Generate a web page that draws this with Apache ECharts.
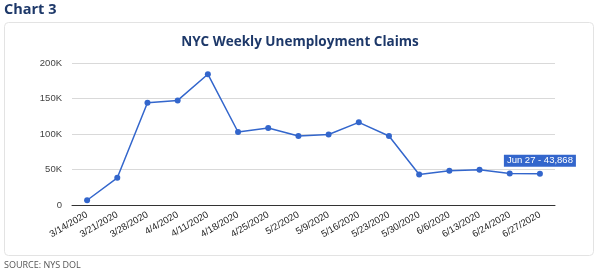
<!DOCTYPE html>
<html>
<head>
<meta charset="utf-8">
<script src="https://cdn.jsdelivr.net/npm/echarts@6/dist/echarts.min.js"></script>
<style>html,body{margin:0;padding:0;background:#fff;}#c{width:600px;height:274px;}</style>
</head>
<body>
<div id="c"></div>
<script>
const categories = ['3/14/2020','3/21/2020','3/28/2020','4/4/2020','4/11/2020','4/18/2020','4/25/2020','5/2/2020','5/9/2020','5/16/2020','5/23/2020','5/30/2020','6/6/2020','6/13/2020','6/24/2020','6/27/2020'];
const claims = [6700, 38300, 143900, 147300, 184200, 102800, 108400, 97200, 99200, 116400, 97200, 43000, 48100, 49500, 44500, 43868];
const yTicks = [0, 50000, 100000, 150000, 200000];
const lastLabel = 'Jun 27 - 43,868';

const chart = echarts.init(document.getElementById('c'), null, {renderer:'canvas'});
const seriesData = claims.map((v, i) => i === claims.length - 1 ? {
  value: v,
  label: {
    show: true, position: 'top', distance: 4,
    formatter: lastLabel,
    color: '#fff', backgroundColor: '#3366cc',
    padding: [1, 3], fontSize: 9.5, fontFamily: 'Liberation Sans, Arial'
  }
} : v);

chart.setOption({
  animation: false,
  graphic: [
    {type:'text', left: 4, top: 2, style:{text:'Chart 3', font:'bold 14.5px "Open Sans"', fill:'#1d3869'}},
    {type:'rect', shape:{x:4.5, y:22.5, width:589, height:233, r:4}, style:{fill:'none', stroke:'#e3e3e3', lineWidth:1}, z:-1},
    {type:'text', left: 4, top: 261, style:{text:'SOURCE: NYS DOL', font:'9px "Open Sans"', fill:'#555'}}
  ],
  title: {
    text: 'NYC Weekly Unemployment Claims',
    left: 'center', top: 30,
    textStyle: {fontFamily: 'Open Sans', fontWeight: 'bold', fontSize: 13.5, color: '#1d3869'}
  },
  grid: {left: 72, right: 45, top: 63, bottom: 69},
  xAxis: {
    type: 'category', data: categories, boundaryGap: true,
    axisLine: {lineStyle: {color: '#333'}},
    axisTick: {show: false},
    axisLabel: {rotate: 30, interval: 0, color: '#222', fontSize: 9.5, fontFamily: 'Liberation Sans, Arial', margin: 9}
  },
  yAxis: {
    type: 'value', min: 0, max: 200000, interval: 50000,
    axisLine: {show: false}, axisTick: {show: false},
    axisLabel: {color: '#444', fontSize: 9.5, fontFamily: 'Liberation Sans, Arial', margin: 10,
      formatter: v => yTicks.includes(v) ? (v === 0 ? '0' : (v/1000) + 'K') : ''},
    splitLine: {lineStyle: {color: '#d9d9d9'}}
  },
  series: [{
    type: 'line', data: seriesData,
    color: '#3366cc',
    lineStyle: {width: 1.5, color: '#3366cc'},
    symbol: 'circle', symbolSize: 6,
    itemStyle: {color: '#3366cc'}
  }]
});
</script>
</body>
</html>
